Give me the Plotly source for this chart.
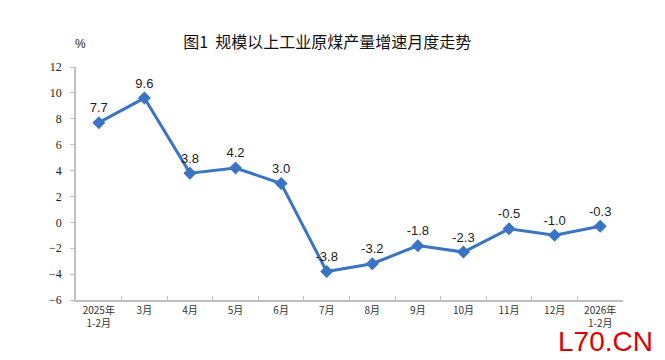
import plotly.graph_objects as go

categories = ["2025年<br>1-2月", "3月", "4月", "5月", "6月", "7月", "8月", "9月", "10月", "11月", "12月", "2026年<br>1-2月"]
values = [7.7, 9.6, 3.8, 4.2, 3.0, -3.8, -3.2, -1.8, -2.3, -0.5, -1.0, -0.3]
labels = [f"{v:.1f}" for v in values]
y_ticks = [-6, -4, -2, 0, 2, 4, 6, 8, 10, 12]

fig = go.Figure()
fig.add_trace(go.Scatter(
    x=categories, y=values, mode="lines+markers+text",
    line=dict(color="#3a74c2", width=3),
    marker=dict(symbol="diamond", size=10, color="#3a74c2"),
    text=labels, textposition="top center",
    textfont=dict(family="Liberation Sans", size=13, color="#222"),
    cliponaxis=False, showlegend=False,
))

fig.update_layout(
    width=665, height=360,
    margin=dict(l=68, r=50, t=59, b=68, autoexpand=False),
    paper_bgcolor="white", plot_bgcolor="white",
    title=dict(text="图1  规模以上工业原煤产量增速月度走势", x=0.480, xanchor="center", y=0.905, yanchor="middle",
               font=dict(family="Noto Sans CJK SC", size=16, color="#111")),
    annotations=[
        dict(text="%", xref="paper", yref="paper", x=0.008, y=1.0, yshift=23, xanchor="center", yanchor="middle",
             showarrow=False, font=dict(family="Liberation Sans", size=12, color="#222")),
        dict(text="L70.CN", xref="paper", yref="paper", x=1.058, y=-0.105, xanchor="right", yanchor="top",
             showarrow=False, font=dict(family="Liberation Sans", size=28, color="#e00000")),
    ],
    xaxis=dict(
        type="category", range=[-0.5, len(categories) - 0.5], showline=True, linecolor="#bfbfbf", linewidth=1.5,
        automargin=False, ticks="inside", tickson="boundaries", ticklen=4, tickcolor="#bfbfbf",
        showgrid=False, tickfont=dict(family="Noto Sans CJK SC", size=10, color="#333"),
    ),
    yaxis=dict(
        range=[-6, 12], tickvals=y_ticks, showline=True, linecolor="#bfbfbf", linewidth=1.5, automargin=False,
        ticks="outside", ticklen=4, tickcolor="#bfbfbf", showgrid=False, zeroline=False, ticklabelstandoff=6,
        tickfont=dict(family="Liberation Serif", size=12, color="#222"),
    ),
)

fig.write_html("out.html")
